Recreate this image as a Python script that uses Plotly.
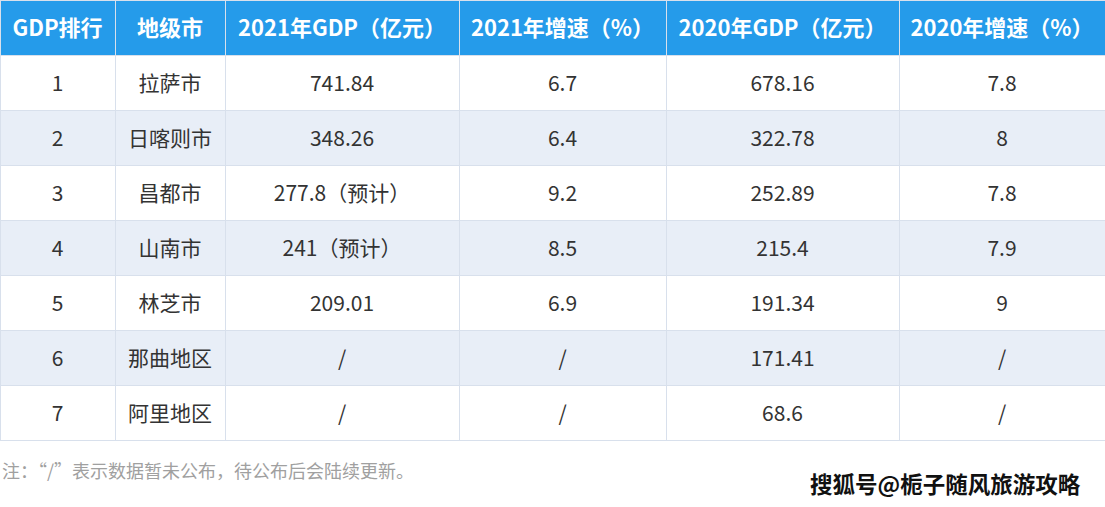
import plotly.graph_objects as go

headers = ["GDP排行", "地级市", "2021年GDP（亿元）", "2021年增速（%）", "2020年GDP（亿元）", "2020年增速（%）"]
rank = ["1", "2", "3", "4", "5", "6", "7"]
city = ["拉萨市", "日喀则市", "昌都市", "山南市", "林芝市", "那曲地区", "阿里地区"]
gdp2021 = ["741.84", "348.26", "277.8（预计）", "241（预计）", "209.01", "/", "/"]
growth2021 = ["6.7", "6.4", "9.2", "8.5", "6.9", "/", "/"]
gdp2020 = ["678.16", "322.78", "252.89", "215.4", "191.34", "171.41", "68.6"]
growth2020 = ["7.8", "8", "7.8", "7.9", "9", "/", "/"]
col_widths = [115, 110, 234, 207, 233, 206]

W, H = 1105, 507
ROW_H = 55
n_rows = len(rank)
columns = [rank, city, gdp2021, growth2021, gdp2020, growth2020]
row_colors = ["#ffffff" if i % 2 == 0 else "#e8eef7" for i in range(n_rows)]
font_family = "Noto Sans CJK SC, Microsoft YaHei, sans-serif"
CLEAR = "rgba(0,0,0,0)"
HEADER_SHIFT = 2    # px offset of header text layer
CELL_SHIFT = -4     # px offset of body text layer


def ydom(top_px, height_px):
    return [1 - (top_px + height_px) / H, 1 - top_px / H]


total_h = ROW_H * (n_rows + 1) + 2

# grid / backgrounds
grid = go.Table(
    columnwidth=col_widths,
    domain=dict(x=[0, 1], y=ydom(0, total_h)),
    header=dict(values=[""] * len(headers), fill_color="#259bea",
                line=dict(color="#d8e0ec", width=1), height=ROW_H),
    cells=dict(values=[[""] * n_rows for _ in headers], fill_color=[row_colors] * len(headers),
               line=dict(color="#d8e0ec", width=1), height=ROW_H),
)

# header text
head_text = go.Table(
    columnwidth=col_widths,
    domain=dict(x=[0, 1], y=ydom(HEADER_SHIFT, ROW_H + 2)),
    header=dict(values=[f"<b>{h}</b>" for h in headers], fill_color=CLEAR,
                line=dict(color=CLEAR, width=0), height=ROW_H, align="center",
                font=dict(color="white", size=22, family=font_family)),
    cells=dict(values=[], fill_color=CLEAR, line=dict(color=CLEAR, width=0)),
)

# body text
body_text = go.Table(
    columnwidth=col_widths,
    domain=dict(x=[0, 1], y=ydom(ROW_H + CELL_SHIFT, ROW_H * n_rows + 30)),
    header=dict(values=[], fill_color=CLEAR, line=dict(color=CLEAR, width=0)),
    cells=dict(values=columns, fill_color=CLEAR, line=dict(color=CLEAR, width=0),
               height=ROW_H, align="center",
               font=dict(color="#333333", size=21, family=font_family)),
)

fig = go.Figure([grid, head_text, body_text])

annotations = [
    dict(text="注：“/”表示数据暂未公布，待公布后会陆续更新。", x=0, y=470,
         xanchor="left", yanchor="middle", showarrow=False,
         font=dict(size=18, color="#a0a0a0", family=font_family)),
    dict(text="<b>搜狐号@栀子随风旅游攻略</b>", x=1083, y=483,
         xanchor="right", yanchor="middle", showarrow=False,
         font=dict(size=22.5, color="#111111", family=font_family)),
]
for (wx, wy) in [(175, 270), (565, 230), (900, 255)]:
    annotations.append(dict(text="<b>Maigoo◎</b>", x=wx, y=wy,
                            xanchor="center", yanchor="middle", showarrow=False, textangle=-42,
                            font=dict(size=44, color="rgba(0,0,0,0.025)", family="Open Sans")))

# convert pixel positions to paper coordinates
for a in annotations:
    a["xref"] = "paper"
    a["yref"] = "paper"
    a["x"] = a["x"] / W
    a["y"] = 1 - a["y"] / H

fig.update_layout(
    width=W, height=H,
    margin=dict(l=0, r=0, t=0, b=0),
    paper_bgcolor="white",
    annotations=annotations,
)

fig.write_html("out.html", config={"displayModeBar": False},
               post_script="document.body.style.margin='0';")
